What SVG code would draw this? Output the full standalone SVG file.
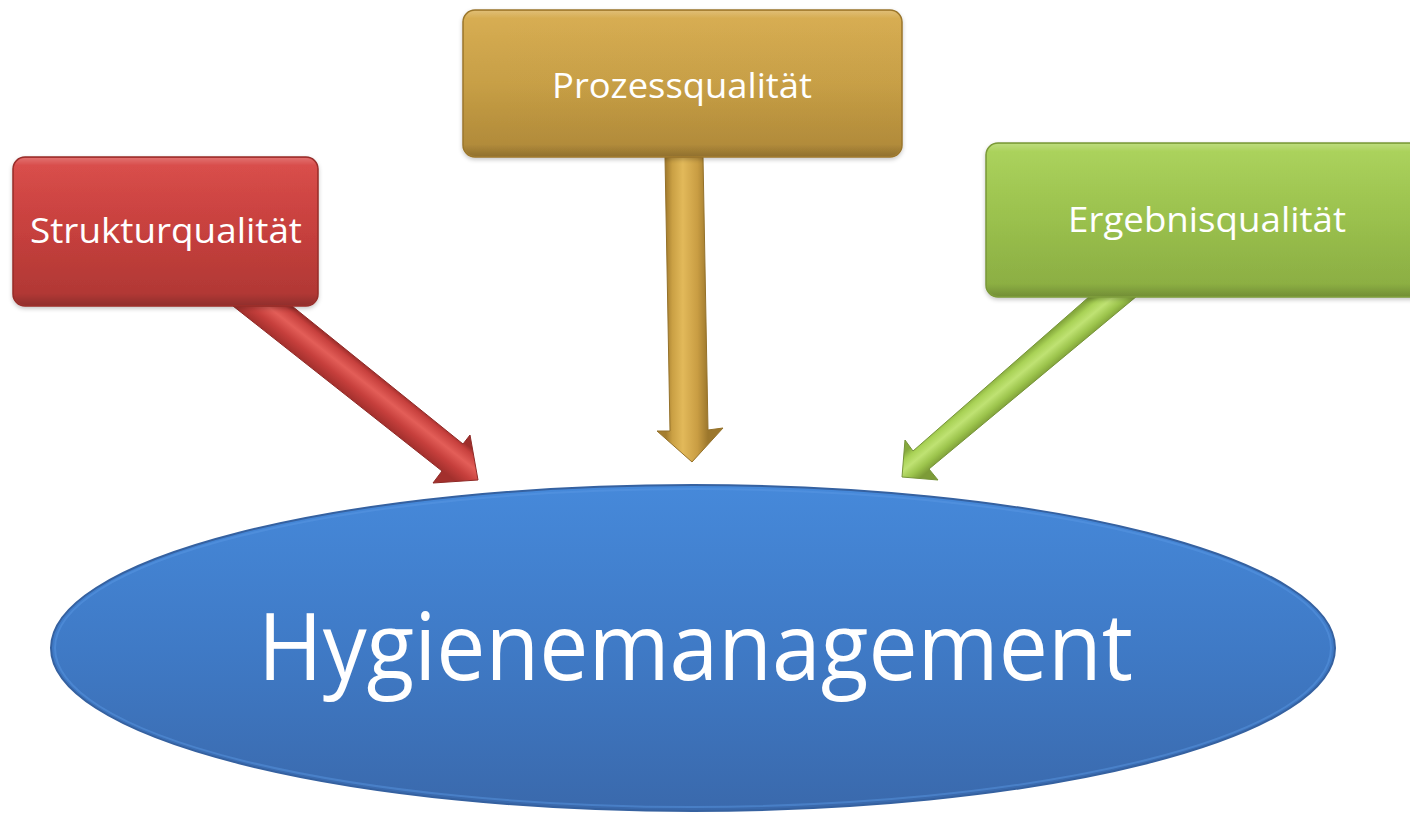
<svg xmlns="http://www.w3.org/2000/svg" width="1410" height="815" viewBox="0 0 1410 815">
  <defs>
    <!-- box fills: light top, darker bottom -->
    <linearGradient id="gRed" x1="0" y1="0" x2="0" y2="1">
      <stop offset="0" stop-color="#d94745"/>
      <stop offset="0.5" stop-color="#c83f3c"/>
      <stop offset="1" stop-color="#ad3734"/>
    </linearGradient>
    <linearGradient id="gGold" x1="0" y1="0" x2="0" y2="1">
      <stop offset="0" stop-color="#d7ab4d"/>
      <stop offset="0.5" stop-color="#c9a045"/>
      <stop offset="1" stop-color="#ad8738"/>
    </linearGradient>
    <linearGradient id="gGreen" x1="0" y1="0" x2="0" y2="1">
      <stop offset="0" stop-color="#a9d256"/>
      <stop offset="0.5" stop-color="#9bc24d"/>
      <stop offset="1" stop-color="#89ab41"/>
    </linearGradient>
    <linearGradient id="gBlue" x1="0" y1="0" x2="0" y2="1">
      <stop offset="0" stop-color="#4689da"/>
      <stop offset="0.5" stop-color="#3f7ac6"/>
      <stop offset="1" stop-color="#3a69ac"/>
    </linearGradient>
    <!-- thin bevel highlight along the top and shade along the bottom -->
    <linearGradient id="gSheen" x1="0" y1="0" x2="0" y2="1">
      <stop offset="0" stop-color="#ffffff" stop-opacity="0.22"/>
      <stop offset="0.05" stop-color="#ffffff" stop-opacity="0.04"/>
      <stop offset="0.92" stop-color="#000000" stop-opacity="0"/>
      <stop offset="1" stop-color="#000000" stop-opacity="0.16"/>
    </linearGradient>
    <!-- arrow shafts: tube shading across the shaft -->
    <linearGradient id="aRed" gradientUnits="userSpaceOnUse" x1="378" y1="375" x2="356" y2="403">
      <stop offset="0" stop-color="#9e2e2b"/>
      <stop offset="0.12" stop-color="#c7403d"/>
      <stop offset="0.4" stop-color="#e35e58"/>
      <stop offset="0.7" stop-color="#c63f3c"/>
      <stop offset="1" stop-color="#a3302d"/>
    </linearGradient>
    <linearGradient id="aGold" gradientUnits="userSpaceOnUse" x1="666" y1="0" x2="708" y2="0">
      <stop offset="0" stop-color="#a47d2f"/>
      <stop offset="0.15" stop-color="#caa044"/>
      <stop offset="0.4" stop-color="#e2b95a"/>
      <stop offset="0.75" stop-color="#c99d43"/>
      <stop offset="1" stop-color="#9c772c"/>
    </linearGradient>
    <linearGradient id="aGreen" gradientUnits="userSpaceOnUse" x1="1010" y1="365" x2="1029" y2="388">
      <stop offset="0" stop-color="#86a93d"/>
      <stop offset="0.2" stop-color="#a9d256"/>
      <stop offset="0.45" stop-color="#bfe273"/>
      <stop offset="0.75" stop-color="#9cc44c"/>
      <stop offset="1" stop-color="#7c9b37"/>
    </linearGradient>
    <filter id="shadow" x="-10%" y="-10%" width="120%" height="130%">
      <feDropShadow dx="0" dy="2" stdDeviation="2" flood-color="#000" flood-opacity="0.22"/>
    </filter>
  </defs>
  <style>
    .label { font-family: "Open Sans", "Noto Sans", "Liberation Sans", sans-serif; fill: #ffffff; }
    .box { filter: url(#shadow); }
    .sheen { fill: url(#gSheen); }
    .arrow { stroke-width: 1; stroke-linejoin: round; }
  </style>

  <rect width="1410" height="815" fill="#ffffff"/>

  <!-- connectors: thick block arrows from each quality box to the ellipse -->
  <g id="connectors">
    <polygon class="arrow" fill="url(#aRed)" stroke="#8f2a27"
      points="233,306 292,306 463,444 470,435 478,480 433,483 442,471"/>
    <polygon class="arrow" fill="url(#aGold)" stroke="#94712a"
      points="665,157 703,157 708,430 723,428 692,462 657,431 670,431"/>
    <polygon class="arrow" fill="url(#aGreen)" stroke="#76943a"
      points="1090,296 1137,296 929,469 938,480 902,477 905,440 913,451"/>
  </g>

  <!-- central ellipse -->
  <g id="hygienemanagement">
    <ellipse cx="693" cy="648" rx="642" ry="163" fill="url(#gBlue)" stroke="#3561a0" stroke-width="2"/>
    <ellipse cx="693" cy="648" rx="638" ry="159" fill="none" stroke="#5b9ae4" stroke-opacity="0.45" stroke-width="2"/>
    <text class="label" x="258" y="680" font-size="93" textLength="875" lengthAdjust="spacingAndGlyphs">Hygienemanagement</text>
  </g>

  <!-- quality boxes -->
  <g id="strukturqualitaet">
    <rect class="box" x="13" y="157" width="305" height="149" rx="12" fill="url(#gRed)" stroke="#962d2a" stroke-width="1.5"/>
    <rect class="sheen" x="14" y="158" width="303" height="147" rx="11"/>
    <text class="label" x="30" y="243" font-size="35" textLength="272" lengthAdjust="spacingAndGlyphs">Strukturqualität</text>
  </g>

  <g id="prozessqualitaet">
    <rect class="box" x="463" y="10" width="439" height="147" rx="12" fill="url(#gGold)" stroke="#9a762c" stroke-width="1.5"/>
    <rect class="sheen" x="464" y="11" width="437" height="145" rx="11"/>
    <text class="label" x="552" y="98" font-size="35" textLength="260" lengthAdjust="spacingAndGlyphs">Prozessqualität</text>
  </g>

  <g id="ergebnisqualitaet">
    <rect class="box" x="986" y="143" width="440" height="154" rx="12" fill="url(#gGreen)" stroke="#7a9838" stroke-width="1.5"/>
    <rect class="sheen" x="987" y="144" width="438" height="152" rx="11"/>
    <text class="label" x="1068" y="232" font-size="35" textLength="278" lengthAdjust="spacingAndGlyphs">Ergebnisqualität</text>
  </g>
</svg>
